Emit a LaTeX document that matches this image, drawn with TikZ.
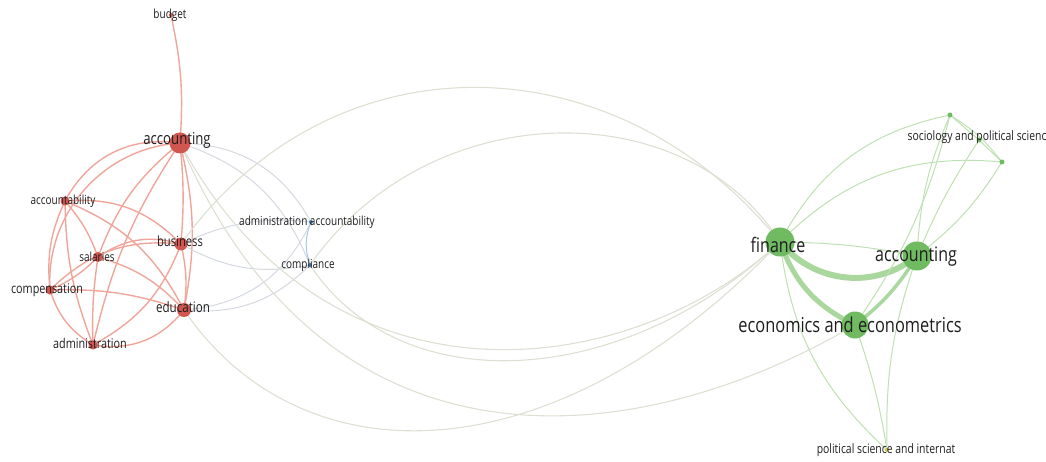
\documentclass[tikz,border=0pt]{standalone}
\usepackage{fontspec}
\newfontfamily\vosfont[FakeStretch=0.8]{Open Sans}
\usetikzlibrary{calc}
\definecolor{vred}{RGB}{210,86,80}
\definecolor{vgreen}{RGB}{112,186,98}
\definecolor{vblue}{RGB}{70,120,175}
\definecolor{vyellow}{RGB}{205,200,70}
\definecolor{vtext}{RGB}{30,30,30}
\definecolor{lred}{RGB}{240,165,155}
\definecolor{lgray}{RGB}{212,216,224}
\definecolor{lblue}{RGB}{165,198,228}
\definecolor{lgreen}{RGB}{190,224,178}
\definecolor{llong}{RGB}{220,224,210}
\pgfdeclarelayer{bg}
\pgfsetlayers{bg,main}
\tikzset{
    every picture/.style = {
        line cap = round
    },
    kw/.style = {
        circle,
        inner sep = 0pt,
        outer sep = 0pt,
        minimum size = #1
    },
    redkw/.style = {kw = #1, fill = vred},
    greenkw/.style = {kw = #1, fill = vgreen},
    bluekw/.style = {kw = #1, fill = vblue},
    yellowkw/.style = {kw = #1, fill = vyellow},
    lbl/.style = {
        font = \vosfont\fontsize{#1}{#1}\selectfont,
        text = vtext,
        inner sep = 0pt
    },
    redlink/.style = {draw = lred, line width = 1.4pt},
    graylink/.style = {draw = lgray, line width = 1pt},
    bluelink/.style = {draw = lblue, line width = 1pt},
    greenlink/.style = {draw = lgreen, line width = 1pt},
    longlink/.style = {draw = llong, line width = 1.1pt},
    fatlink/.style = {draw = lgreen!75!vgreen, line width = #1}
}

\begin{document}
\begin{tikzpicture}[x = 1pt, y = 1pt]
    \useasboundingbox (0, 0) rectangle (1046, 461);

    % red cluster
    \node[redkw = 4pt]  (budget) at (171, 446) {};
    \node[redkw = 21pt] (accR)   at (180, 318) {};
    \node[redkw = 9pt]  (abl)    at (65, 260)  {};
    \node[redkw = 13pt] (bus)    at (181, 217) {};
    \node[redkw = 10pt] (sal)    at (98, 204)  {};
    \node[redkw = 9pt]  (cmp)    at (50, 171)  {};
    \node[redkw = 14pt] (edu)    at (184, 151) {};
    \node[redkw = 9pt]  (adm)    at (93, 116)  {};

    % blue cluster
    \node[bluekw = 4pt] (aac) at (311, 239) {};
    \node[bluekw = 4pt] (com) at (310, 196) {};

    % green cluster
    \node[greenkw = 29pt] (fin)  at (780, 219)  {};
    \node[greenkw = 29pt] (accG) at (917, 205)  {};
    \node[greenkw = 27pt] (eco)  at (855, 136)  {};
    \node[greenkw = 5pt]  (soc1) at (950, 346)  {};
    \node[greenkw = 5pt]  (soc)  at (979, 321)  {};
    \node[greenkw = 5pt]  (soc3) at (1002, 299) {};
    \node[yellowkw = 4pt] (pol)  at (887, 11)   {};

    \begin{pgfonlayer}{bg}
        % red links
        \draw[redlink] (budget.center) to[bend left = 8] (accR.center);
        \draw[redlink] (accR.center) to[bend right = 35] (abl.center);
        \draw[redlink] (accR.center) to[bend right = 45] (cmp.center);
        \draw[redlink] (accR.center) to[bend right = 15] (sal.center);
        \draw[redlink] (accR.center) to[bend right = 10] (adm.center);
        \draw[redlink] (accR.center) to[bend left = 5] (bus.center);
        \draw[redlink] (accR.center) to[bend left = 12] (edu.center);
        \draw[redlink] (abl.center) to[bend left = 25] (bus.center);
        \draw[redlink] (abl.center) to[bend left = 20] (edu.center);
        \draw[redlink] (abl.center) to[bend right = 15] (cmp.center);
        \draw[redlink] (abl.center) to[bend right = 10] (adm.center);
        \draw[redlink] (abl.center) to[bend left = 10] (sal.center);
        \draw[redlink] (sal.center) to[bend left = 25] (bus.center);
        \draw[redlink] (sal.center) to[bend left = 15] (edu.center);
        \draw[redlink] (sal.center) to[bend left = 10] (cmp.center);
        \draw[redlink] (sal.center) to[bend right = 5] (adm.center);
        \draw[redlink] (cmp.center) to[bend left = 25] (bus.center);
        \draw[redlink] (cmp.center) to[bend left = 10] (edu.center);
        \draw[redlink] (cmp.center) to[bend right = 20] (adm.center);
        \draw[redlink] (adm.center) to[bend right = 30] (edu.center);
        \draw[redlink] (adm.center) to[bend right = 20] (bus.center);
        \draw[redlink] (bus.center) to[bend left = 10] (edu.center);

        % red to blue
        \draw[graylink] (accR.center) to[bend left = 30] (aac.center);
        \draw[graylink] (accR.center) to[bend left = 25] (com.center);
        \draw[graylink] (bus.center) to[bend left = 15] (aac.center);
        \draw[graylink] (bus.center) to[bend right = 20] (com.center);
        \draw[graylink] (edu.center) to[bend right = 30] (aac.center);
        \draw[graylink] (edu.center) to[bend right = 25] (com.center);
        \draw[bluelink] (aac.center) to[bend right = 20] (com.center);

        % long links
        \draw[longlink] (bus.center) .. controls +(150, 210) and +(-165, 205) .. (fin.center);
        \draw[longlink] (com.center) .. controls +(120, 172) and +(-93, 149) .. (fin.center);
        \draw[longlink] (accR.center) .. controls (330, 40) and (630, 80) .. (fin.center);
        \draw[longlink] (com.center) .. controls (400, 60) and (620, 70) .. (fin.center);
        \draw[longlink] (edu.center) .. controls (300, -20) and (552, -20) .. (fin.center);
        \draw[longlink] (accR.center) .. controls (330, -30) and (640, 10) .. (eco.center);

        % green links
        \draw[fatlink = 6pt] (fin.center) to[bend right = 45] (accG.center);
        \draw[fatlink = 5pt] (fin.center) to[bend right = 22] (eco.center);
        \draw[fatlink = 3.5pt] (eco.center) to[bend right = 10] (accG.center);
        \draw[greenlink] (fin.center) to[bend left = 5] (accG.center);
        \draw[greenlink] (fin.center) to[bend left = 25] (soc1.center);
        \draw[greenlink] (fin.center) to[bend left = 25] (soc3.center);
        \draw[greenlink] (accG.center) to[bend left = 10] (soc1.center);
        \draw[greenlink] (accG.center) to[bend left = 5] (soc.center);
        \draw[greenlink] (accG.center) to[bend right = 10] (soc3.center);
        \draw[greenlink] (eco.center) to[bend right = 10] (soc1.center);
        \draw[greenlink] (soc1.center) to[bend left = 10] (soc3.center);
        \draw[greenlink] (soc.center) to (soc3.center);
        \draw[greenlink] (soc1.center) to (soc.center);
        \draw[greenlink] (fin.center) to[bend right = 20] (pol.center);
        \draw[greenlink] (eco.center) to[bend left = 5] (pol.center);
        \draw[greenlink] (accG.center) to[bend right = 10] (pol.center);
    \end{pgfonlayer}

    % labels
    \node[lbl = 12.5] (budget-l) at (170, 446) {budget};
    \node[lbl = 16.5] (accR-l)   at (177, 321) {accounting};
    \node[lbl = 12.5] (abl-l)    at (63, 260)  {accountability};
    \node[lbl = 14]   (bus-l)    at (180, 220) {business};
    \node[lbl = 12.5] (sal-l)    at (97, 204)  {salaries};
    \node[lbl = 13.5] (cmp-l)    at (47, 171)  {compensation};
    \node[lbl = 14.5] (edu-l)    at (183, 154) {education};
    \node[lbl = 13.5] (adm-l)    at (90, 118)  {administration};
    \node[lbl = 12.5] (aac-l)    at (307, 239) {administration accountability};
    \node[lbl = 12.5] (com-l)    at (308, 196) {compliance};
    \node[lbl = 20]   (fin-l)    at (778, 216) {finance};
    \node[lbl = 20]   (accG-l)   at (916, 204) {accounting};
    \node[lbl = 20.5] (eco-l)    at (850, 136) {economics and econometrics};
    \node[lbl = 13]   (soc-l)    at (977, 324) {sociology and political scienc};
    \node[lbl = 13]   (pol-l)    at (886, 11)  {political science and internat};
\end{tikzpicture}
\end{document}
